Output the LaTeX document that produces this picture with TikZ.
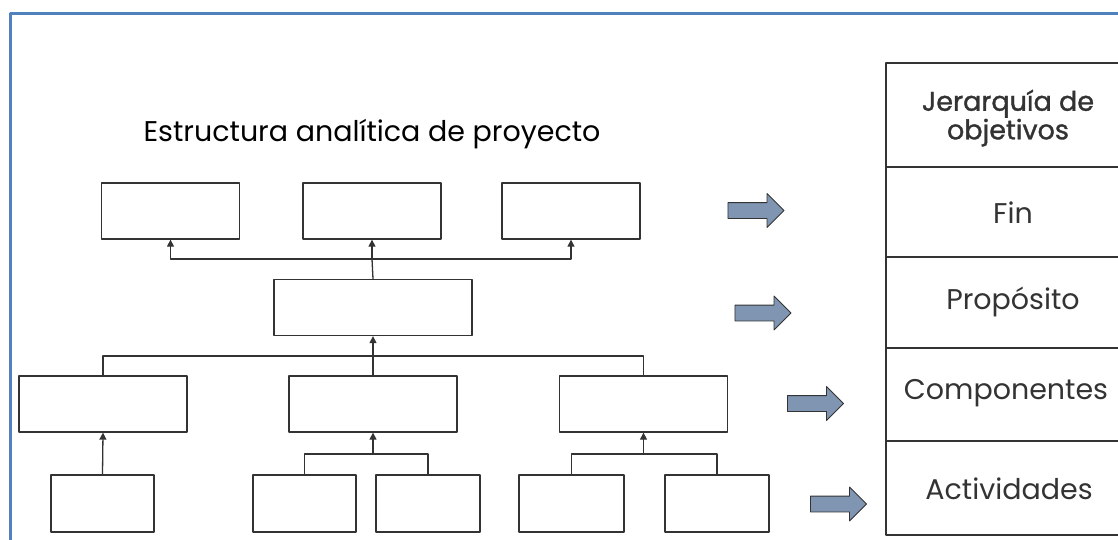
\documentclass[tikz,border=0pt]{standalone}
\usepackage{fontspec}
\setmainfont{Poppins}
\usetikzlibrary{arrows.meta,shapes.arrows}
\definecolor{marco}{RGB}{79,129,189}
\definecolor{flecha}{RGB}{127,149,178}
\definecolor{tinta}{RGB}{51,51,51}
\begin{document}
\begin{tikzpicture}[x=1pt, y=-1pt, line join=round, >={Triangle[length=7pt,width=7pt]},
 caja/.style={draw=tinta, line width=1.3pt, minimum width=#1, minimum height=56pt, inner sep=0pt},
 caja/.default=138pt,
 con/.style={draw=tinta, line width=1.3pt},
 bloque/.style={single arrow, draw=black!80, line width=0.9pt, fill=flecha, minimum height=56pt, inner xsep=0pt, inner ysep=7.5pt, single arrow head extend=9pt, single arrow head indent=0pt},
 celda/.style={text=tinta, font=\fontsize{28.5}{30}\selectfont, align=center}]
 \useasboundingbox (0,0) rectangle (1118,539);
 \clip (0,0) rectangle (1118,539);
 \draw[marco, line width=3pt] (1130,13)--(10,13)--(10,550);
 \node[text=black, font=\fontsize{28.5}{30}\selectfont] (titulo) at (372,134) {Estructura analítica de proyecto};
 % arbol
 \node[caja] (t1) at (170.5,211) {};
 \node[caja] (t2) at (372,211) {};
 \node[caja] (t3) at (571,211) {};
 \node[caja=198pt] (mid) at (373,307.5) {};
 \node[caja=168pt] (m1) at (103,404) {};
 \node[caja=168pt] (m2) at (373,404) {};
 \node[caja=168pt] (m3) at (643.5,404) {};
 \node[caja=103pt, minimum height=57pt] (b1) at (102.5,503.5) {};
 \node[caja=103pt, minimum height=57pt] (b2) at (304.5,503.5) {};
 \node[caja=104pt, minimum height=57pt] (b3) at (428,503.5) {};
 \node[caja=105pt, minimum height=57pt] (b4) at (571.5,503.5) {};
 \node[caja=104pt, minimum height=57pt] (b5) at (717,503.5) {};
 \coordinate (bus1) at (372,259);
 \coordinate (bus2) at (373,356);
 \coordinate (bus3) at (373,454);
 \coordinate (bus4) at (643.5,454);
 \draw[con] (mid.north)--(bus1);
 \draw[con,->] (bus1)-|(t1.south);
 \draw[con,->] (bus1)-|(t3.south);
 \draw[con,->] (bus1)--(t2.south);
 \draw[con] (m1.north)|-(bus2)-|(m3.north);
 \draw[con,->] (m2.north)--(mid.south);
 \draw[con,->] (b1.north)--(m1.south);
 \draw[con] (b2.north)|-(bus3)-|(b3.north);
 \draw[con,->] (bus3)--(m2.south);
 \draw[con] (b4.north)|-(bus4)-|(b5.north);
 \draw[con,->] (bus4)--(m3.south);
 % flechas de bloque
 \node[bloque] (f1) at (752,210.5) {};
 \node[bloque] (f2) at (759,313) {};
 \node[bloque] (f3) at (811.5,403.5) {};
 \node[bloque] (f4) at (834.5,504) {};
 % tabla
 \draw[tinta, line width=1.3pt] (1140,63)-|(886,535)--(1140,535);
 \foreach \y in {167,257,348,441} \draw[tinta, line width=1.3pt] (886,\y)--(1140,\y);
 \path
 (1008,118) node[celda, font=\fontsize{27}{26}\selectfont\addfontfeature{FakeBold=1.2}] (jer) {Jerarquía de\\objetivos}
 (1013,213) node[celda] (fin) {Fin}
 (1013,302) node[celda] (pro) {Propósito}
 (1006,393) node[celda] (com) {Componentes}
 (1009,489) node[celda] (act) {Actividades};
\end{tikzpicture}
\end{document}
